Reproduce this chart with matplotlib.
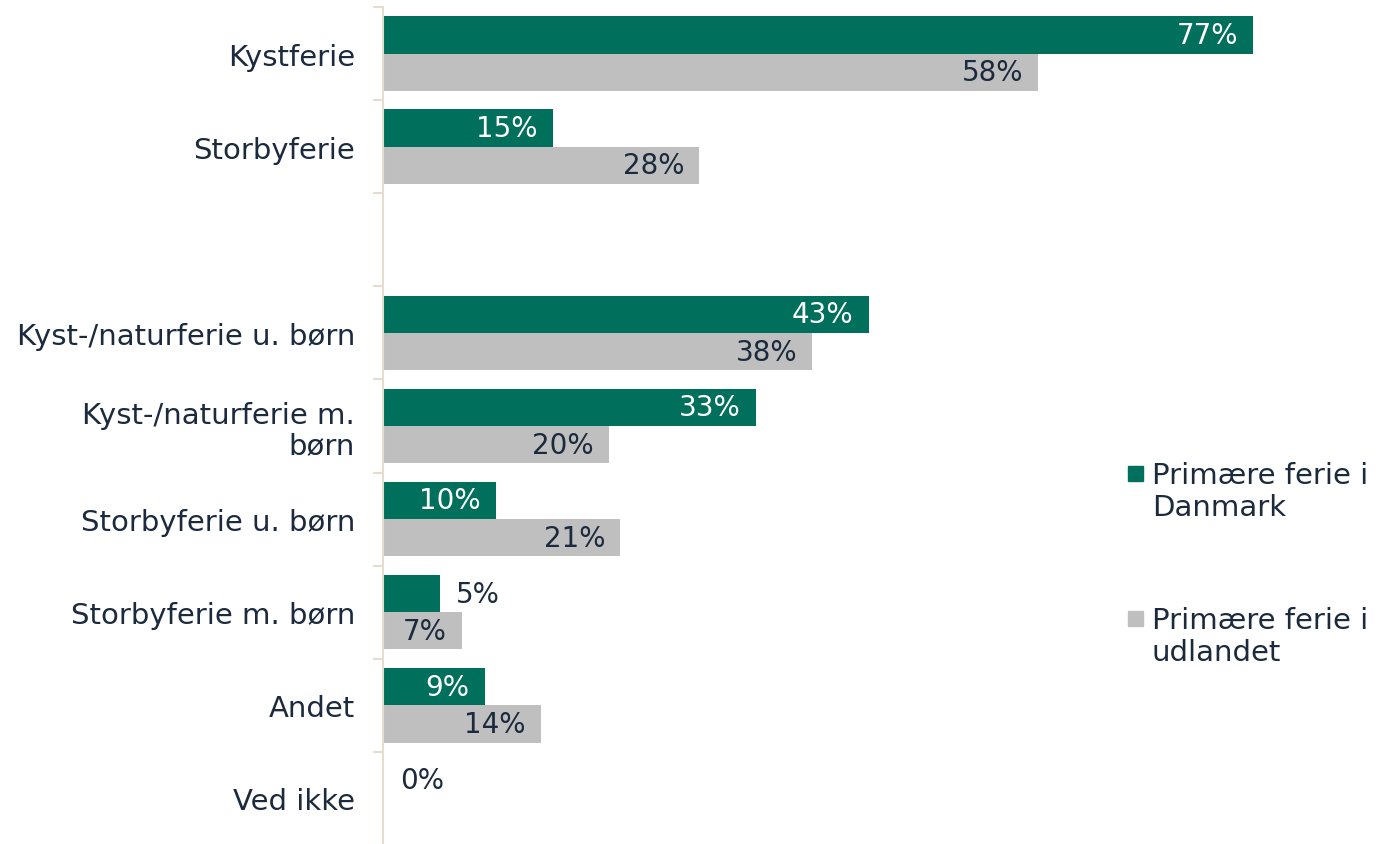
import numpy as np
import matplotlib
matplotlib.use("Agg")
import matplotlib.pyplot as plt
from matplotlib.patches import Rectangle

categories = ["Kystferie", "Storbyferie", "", "Kyst-/naturferie u. børn",
              "Kyst-/naturferie m.\nbørn", "Storbyferie u. børn",
              "Storbyferie m. børn", "Andet", "Ved ikke"]
dk_values = [77, 15, np.nan, 43, 33, 10, 5, 9, 0]
abroad_values = [58, 28, np.nan, 38, 20, 21, 7, 14, np.nan]
series_names = ["Primære ferie i\nDanmark", "Primære ferie i\nudlandet"]

GREEN = "#006F5B"
GREY = "#BFBFBF"
TEXT = "#1B2A3D"
AXIS = "#E5DED0"
FS = 21
VFS = 20

plt.rcParams["font.family"] = ["DejaVu Sans"]

fig = plt.figure(figsize=(13.9, 8.45), dpi=100)
W, H = 1390, 845
ax = fig.add_axes([383 / W, -1 / H, 1 - 383 / W, (845 - 7) / H])

y = np.arange(len(categories))
bh = 0.4
ax.barh(y - bh / 2, dk_values, height=bh, color=GREEN, clip_on=False)
ax.barh(y + bh / 2, abroad_values, height=bh, color=GREY, clip_on=False)

ax.set_xlim(0, (W - 383) / 11.3)
ax.set_ylim(len(categories) - 0.5, -0.5)

def label(v, yy, inside_color, threshold):
    if np.isnan(v):
        return
    txt = f"{v:.0f}%"
    if v >= threshold:
        ax.annotate(txt, (v, yy), xytext=(-11, 0), textcoords="offset points",
                    ha="right", va="center", color=inside_color, fontsize=VFS)
    else:
        ax.annotate(txt, (v, yy), xytext=(12, 0), textcoords="offset points",
                    ha="left", va="center", color=TEXT, fontsize=VFS)

for i in range(len(categories)):
    label(dk_values[i], y[i] - bh / 2, "white", 8)
    label(abroad_values[i], y[i] + bh / 2, TEXT, 1)

# axes styling
for s in ["top", "right", "bottom"]:
    ax.spines[s].set_visible(False)
ax.spines["left"].set_color(AXIS)
ax.spines["left"].set_linewidth(1.5)
ax.set_xticks([])
ax.set_yticks(y)
ax.set_yticklabels(categories, fontsize=FS, color=TEXT, ha="right", linespacing=1.1)
ax.tick_params(axis="y", which="major", length=0, pad=20)
ax.set_yticks(np.arange(-0.5, len(categories) + 0.5, 1), minor=True)
ax.tick_params(axis="y", which="minor", length=7, width=1.5, color=AXIS, direction="out")

# legend (manual, square markers aligned with first line)
legend_items = [(series_names[0], GREEN, 474, 492), (series_names[1], GREY, 619, 637)]
for name, col, ysq, yc in legend_items:
    fig.patches.append(Rectangle((1128 / W, 1 - (ysq + 8) / H), 15 / W, 15 / H,
                                 transform=fig.transFigure, color=col, figure=fig))
    fig.text(1152 / W, 1 - yc / H, name, fontsize=FS, color=TEXT,
             ha="left", va="center", linespacing=1.15)

fig.savefig("out.png", dpi=100)
